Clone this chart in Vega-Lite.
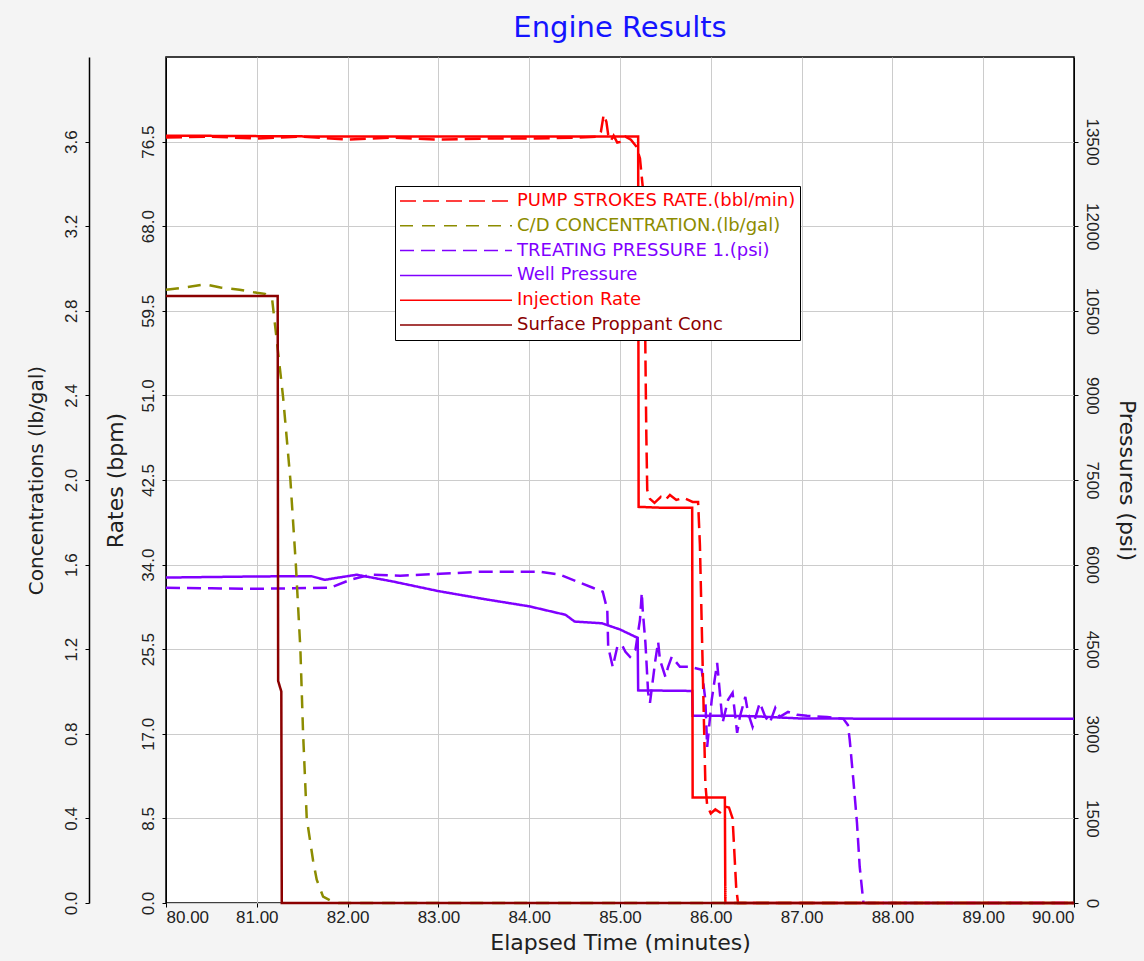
{
  "$schema": "https://vega.github.io/schema/vega-lite/v6.json",
  "width": 908,
  "height": 846,
  "autosize": {"type": "none"},
  "padding": {"left": 166, "top": 57, "right": 70, "bottom": 58},
  "background": "#f4f4f4",
  "title": {"text": "Engine Results", "font": "DejaVu Sans", "fontSize": 29, "fontWeight": "normal", "color": "#1414ff", "anchor": "middle", "offset": 14},
  "config": {
    "view": {"fill": "white", "stroke": "black", "strokeWidth": 1.5},
    "axis": {"labelFont": "Liberation Sans", "labelFontSize": 17, "labelColor": "#222222", "titleFont": "DejaVu Sans", "titleFontWeight": "normal", "titleColor": "#202020", "tickColor": "black", "domainColor": "black", "gridColor": "#cccccc", "tickSize": 4}
  },
  "datasets": {
    "rates": [
      {"s": "Injection Rate", "t": 80.0, "v": 77.1},
      {"s": "Injection Rate", "t": 82.0, "v": 77.0},
      {"s": "Injection Rate", "t": 84.0, "v": 77.0},
      {"s": "Injection Rate", "t": 85.2, "v": 77.0},
      {"s": "Injection Rate", "t": 85.205, "v": 39.8},
      {"s": "Injection Rate", "t": 85.5, "v": 39.7},
      {"s": "Injection Rate", "t": 85.795, "v": 39.7},
      {"s": "Injection Rate", "t": 85.8, "v": 10.6},
      {"s": "Injection Rate", "t": 86.155, "v": 10.6},
      {"s": "Injection Rate", "t": 86.16, "v": 0},
      {"s": "Injection Rate", "t": 90.0, "v": 0},
      {"s": "PUMP STROKES RATE.(bbl/min)", "t": 80.0, "v": 76.9},
      {"s": "PUMP STROKES RATE.(bbl/min)", "t": 80.5, "v": 77.0},
      {"s": "PUMP STROKES RATE.(bbl/min)", "t": 81.0, "v": 76.8},
      {"s": "PUMP STROKES RATE.(bbl/min)", "t": 81.5, "v": 77.0},
      {"s": "PUMP STROKES RATE.(bbl/min)", "t": 82.0, "v": 76.7},
      {"s": "PUMP STROKES RATE.(bbl/min)", "t": 82.5, "v": 76.9},
      {"s": "PUMP STROKES RATE.(bbl/min)", "t": 83.0, "v": 76.7},
      {"s": "PUMP STROKES RATE.(bbl/min)", "t": 83.5, "v": 76.8},
      {"s": "PUMP STROKES RATE.(bbl/min)", "t": 84.0, "v": 76.8},
      {"s": "PUMP STROKES RATE.(bbl/min)", "t": 84.5, "v": 76.9},
      {"s": "PUMP STROKES RATE.(bbl/min)", "t": 84.75, "v": 77.0},
      {"s": "PUMP STROKES RATE.(bbl/min)", "t": 84.79, "v": 77.5},
      {"s": "PUMP STROKES RATE.(bbl/min)", "t": 84.82, "v": 79.2},
      {"s": "PUMP STROKES RATE.(bbl/min)", "t": 84.85, "v": 78.5},
      {"s": "PUMP STROKES RATE.(bbl/min)", "t": 84.87, "v": 77.2},
      {"s": "PUMP STROKES RATE.(bbl/min)", "t": 84.9, "v": 76.6},
      {"s": "PUMP STROKES RATE.(bbl/min)", "t": 84.93, "v": 77.1},
      {"s": "PUMP STROKES RATE.(bbl/min)", "t": 84.97, "v": 76.4},
      {"s": "PUMP STROKES RATE.(bbl/min)", "t": 85.02, "v": 76.5},
      {"s": "PUMP STROKES RATE.(bbl/min)", "t": 85.06, "v": 77.0},
      {"s": "PUMP STROKES RATE.(bbl/min)", "t": 85.12, "v": 76.7},
      {"s": "PUMP STROKES RATE.(bbl/min)", "t": 85.18, "v": 76.0},
      {"s": "PUMP STROKES RATE.(bbl/min)", "t": 85.22, "v": 74.8},
      {"s": "PUMP STROKES RATE.(bbl/min)", "t": 85.25, "v": 72.0},
      {"s": "PUMP STROKES RATE.(bbl/min)", "t": 85.27, "v": 65.0},
      {"s": "PUMP STROKES RATE.(bbl/min)", "t": 85.28, "v": 55.0},
      {"s": "PUMP STROKES RATE.(bbl/min)", "t": 85.29, "v": 47.0},
      {"s": "PUMP STROKES RATE.(bbl/min)", "t": 85.3, "v": 41.5},
      {"s": "PUMP STROKES RATE.(bbl/min)", "t": 85.33, "v": 40.6},
      {"s": "PUMP STROKES RATE.(bbl/min)", "t": 85.38, "v": 40.2},
      {"s": "PUMP STROKES RATE.(bbl/min)", "t": 85.45, "v": 40.8},
      {"s": "PUMP STROKES RATE.(bbl/min)", "t": 85.5, "v": 40.5},
      {"s": "PUMP STROKES RATE.(bbl/min)", "t": 85.55, "v": 41.0},
      {"s": "PUMP STROKES RATE.(bbl/min)", "t": 85.62, "v": 40.5},
      {"s": "PUMP STROKES RATE.(bbl/min)", "t": 85.7, "v": 40.7},
      {"s": "PUMP STROKES RATE.(bbl/min)", "t": 85.8, "v": 40.3},
      {"s": "PUMP STROKES RATE.(bbl/min)", "t": 85.86, "v": 40.3},
      {"s": "PUMP STROKES RATE.(bbl/min)", "t": 85.88, "v": 36.0},
      {"s": "PUMP STROKES RATE.(bbl/min)", "t": 85.9, "v": 28.0},
      {"s": "PUMP STROKES RATE.(bbl/min)", "t": 85.92, "v": 20.0},
      {"s": "PUMP STROKES RATE.(bbl/min)", "t": 85.94, "v": 12.0},
      {"s": "PUMP STROKES RATE.(bbl/min)", "t": 85.96, "v": 9.8},
      {"s": "PUMP STROKES RATE.(bbl/min)", "t": 86.0, "v": 9.0},
      {"s": "PUMP STROKES RATE.(bbl/min)", "t": 86.05, "v": 9.4},
      {"s": "PUMP STROKES RATE.(bbl/min)", "t": 86.1, "v": 9.1},
      {"s": "PUMP STROKES RATE.(bbl/min)", "t": 86.15, "v": 9.7},
      {"s": "PUMP STROKES RATE.(bbl/min)", "t": 86.2, "v": 9.6},
      {"s": "PUMP STROKES RATE.(bbl/min)", "t": 86.24, "v": 8.5},
      {"s": "PUMP STROKES RATE.(bbl/min)", "t": 86.26, "v": 5.0},
      {"s": "PUMP STROKES RATE.(bbl/min)", "t": 86.28, "v": 1.5},
      {"s": "PUMP STROKES RATE.(bbl/min)", "t": 86.3, "v": 0},
      {"s": "PUMP STROKES RATE.(bbl/min)", "t": 90.0, "v": 0}
    ],
    "conc": [
      {"s": "C/D CONCENTRATION.(lb/gal)", "t": 80.0, "v": 2.9},
      {"s": "C/D CONCENTRATION.(lb/gal)", "t": 80.2, "v": 2.91},
      {"s": "C/D CONCENTRATION.(lb/gal)", "t": 80.43, "v": 2.925},
      {"s": "C/D CONCENTRATION.(lb/gal)", "t": 80.6, "v": 2.91},
      {"s": "C/D CONCENTRATION.(lb/gal)", "t": 80.81, "v": 2.9},
      {"s": "C/D CONCENTRATION.(lb/gal)", "t": 81.0, "v": 2.885},
      {"s": "C/D CONCENTRATION.(lb/gal)", "t": 81.09, "v": 2.88},
      {"s": "C/D CONCENTRATION.(lb/gal)", "t": 81.17, "v": 2.85},
      {"s": "C/D CONCENTRATION.(lb/gal)", "t": 81.22, "v": 2.66},
      {"s": "C/D CONCENTRATION.(lb/gal)", "t": 81.29, "v": 2.39},
      {"s": "C/D CONCENTRATION.(lb/gal)", "t": 81.37, "v": 2.0},
      {"s": "C/D CONCENTRATION.(lb/gal)", "t": 81.43, "v": 1.6},
      {"s": "C/D CONCENTRATION.(lb/gal)", "t": 81.48, "v": 1.2},
      {"s": "C/D CONCENTRATION.(lb/gal)", "t": 81.51, "v": 0.8},
      {"s": "C/D CONCENTRATION.(lb/gal)", "t": 81.55, "v": 0.4},
      {"s": "C/D CONCENTRATION.(lb/gal)", "t": 81.62, "v": 0.2},
      {"s": "C/D CONCENTRATION.(lb/gal)", "t": 81.66, "v": 0.11},
      {"s": "C/D CONCENTRATION.(lb/gal)", "t": 81.73, "v": 0.03},
      {"s": "C/D CONCENTRATION.(lb/gal)", "t": 81.84, "v": 0.005},
      {"s": "C/D CONCENTRATION.(lb/gal)", "t": 81.9, "v": 0},
      {"s": "C/D CONCENTRATION.(lb/gal)", "t": 90.0, "v": 0},
      {"s": "Surface Proppant Conc", "t": 80.0, "v": 2.87},
      {"s": "Surface Proppant Conc", "t": 81.23, "v": 2.87},
      {"s": "Surface Proppant Conc", "t": 81.235, "v": 1.05},
      {"s": "Surface Proppant Conc", "t": 81.27, "v": 1.0},
      {"s": "Surface Proppant Conc", "t": 81.275, "v": 0},
      {"s": "Surface Proppant Conc", "t": 90.0, "v": 0}
    ],
    "press": [
      {"s": "Well Pressure", "t": 80.0, "v": 5770},
      {"s": "Well Pressure", "t": 80.5, "v": 5780},
      {"s": "Well Pressure", "t": 81.0, "v": 5790},
      {"s": "Well Pressure", "t": 81.6, "v": 5795},
      {"s": "Well Pressure", "t": 81.75, "v": 5730},
      {"s": "Well Pressure", "t": 81.9, "v": 5770},
      {"s": "Well Pressure", "t": 82.1, "v": 5820},
      {"s": "Well Pressure", "t": 82.5, "v": 5700},
      {"s": "Well Pressure", "t": 83.0, "v": 5530},
      {"s": "Well Pressure", "t": 83.5, "v": 5390},
      {"s": "Well Pressure", "t": 84.0, "v": 5260},
      {"s": "Well Pressure", "t": 84.4, "v": 5110},
      {"s": "Well Pressure", "t": 84.5, "v": 4990},
      {"s": "Well Pressure", "t": 84.8, "v": 4960},
      {"s": "Well Pressure", "t": 85.0, "v": 4850},
      {"s": "Well Pressure", "t": 85.195, "v": 4700},
      {"s": "Well Pressure", "t": 85.2, "v": 3770},
      {"s": "Well Pressure", "t": 85.795, "v": 3760},
      {"s": "Well Pressure", "t": 85.8, "v": 3320},
      {"s": "Well Pressure", "t": 86.2, "v": 3320},
      {"s": "Well Pressure", "t": 86.5, "v": 3310},
      {"s": "Well Pressure", "t": 87.0, "v": 3270},
      {"s": "Well Pressure", "t": 90.0, "v": 3265},
      {"s": "TREATING PRESSURE 1.(psi)", "t": 80.0, "v": 5589},
      {"s": "TREATING PRESSURE 1.(psi)", "t": 80.5, "v": 5580},
      {"s": "TREATING PRESSURE 1.(psi)", "t": 80.93, "v": 5571},
      {"s": "TREATING PRESSURE 1.(psi)", "t": 81.4, "v": 5580},
      {"s": "TREATING PRESSURE 1.(psi)", "t": 81.81, "v": 5589},
      {"s": "TREATING PRESSURE 1.(psi)", "t": 82.03, "v": 5731},
      {"s": "TREATING PRESSURE 1.(psi)", "t": 82.25, "v": 5820},
      {"s": "TREATING PRESSURE 1.(psi)", "t": 82.58, "v": 5802},
      {"s": "TREATING PRESSURE 1.(psi)", "t": 83.02, "v": 5837},
      {"s": "TREATING PRESSURE 1.(psi)", "t": 83.46, "v": 5873},
      {"s": "TREATING PRESSURE 1.(psi)", "t": 84.12, "v": 5873},
      {"s": "TREATING PRESSURE 1.(psi)", "t": 84.34, "v": 5820},
      {"s": "TREATING PRESSURE 1.(psi)", "t": 84.56, "v": 5678},
      {"s": "TREATING PRESSURE 1.(psi)", "t": 84.7, "v": 5589},
      {"s": "TREATING PRESSURE 1.(psi)", "t": 84.81, "v": 5518},
      {"s": "TREATING PRESSURE 1.(psi)", "t": 84.86, "v": 5199},
      {"s": "TREATING PRESSURE 1.(psi)", "t": 84.87, "v": 4542},
      {"s": "TREATING PRESSURE 1.(psi)", "t": 84.92, "v": 4187},
      {"s": "TREATING PRESSURE 1.(psi)", "t": 84.97, "v": 4542},
      {"s": "TREATING PRESSURE 1.(psi)", "t": 85.02, "v": 4578},
      {"s": "TREATING PRESSURE 1.(psi)", "t": 85.06, "v": 4453},
      {"s": "TREATING PRESSURE 1.(psi)", "t": 85.11, "v": 4365},
      {"s": "TREATING PRESSURE 1.(psi)", "t": 85.17, "v": 4489},
      {"s": "TREATING PRESSURE 1.(psi)", "t": 85.22, "v": 5021},
      {"s": "TREATING PRESSURE 1.(psi)", "t": 85.24, "v": 5500},
      {"s": "TREATING PRESSURE 1.(psi)", "t": 85.25, "v": 5199},
      {"s": "TREATING PRESSURE 1.(psi)", "t": 85.28, "v": 4613},
      {"s": "TREATING PRESSURE 1.(psi)", "t": 85.31, "v": 3726},
      {"s": "TREATING PRESSURE 1.(psi)", "t": 85.33, "v": 3549},
      {"s": "TREATING PRESSURE 1.(psi)", "t": 85.39, "v": 4312},
      {"s": "TREATING PRESSURE 1.(psi)", "t": 85.42, "v": 4631},
      {"s": "TREATING PRESSURE 1.(psi)", "t": 85.44, "v": 4312},
      {"s": "TREATING PRESSURE 1.(psi)", "t": 85.5, "v": 4010},
      {"s": "TREATING PRESSURE 1.(psi)", "t": 85.53, "v": 4187},
      {"s": "TREATING PRESSURE 1.(psi)", "t": 85.57, "v": 4365},
      {"s": "TREATING PRESSURE 1.(psi)", "t": 85.66, "v": 4187},
      {"s": "TREATING PRESSURE 1.(psi)", "t": 85.77, "v": 4187},
      {"s": "TREATING PRESSURE 1.(psi)", "t": 85.9, "v": 4134},
      {"s": "TREATING PRESSURE 1.(psi)", "t": 85.94, "v": 3602},
      {"s": "TREATING PRESSURE 1.(psi)", "t": 85.96, "v": 2768},
      {"s": "TREATING PRESSURE 1.(psi)", "t": 86.01, "v": 3602},
      {"s": "TREATING PRESSURE 1.(psi)", "t": 86.07, "v": 4258},
      {"s": "TREATING PRESSURE 1.(psi)", "t": 86.1, "v": 3726},
      {"s": "TREATING PRESSURE 1.(psi)", "t": 86.13, "v": 3194},
      {"s": "TREATING PRESSURE 1.(psi)", "t": 86.19, "v": 3602},
      {"s": "TREATING PRESSURE 1.(psi)", "t": 86.24, "v": 3726},
      {"s": "TREATING PRESSURE 1.(psi)", "t": 86.29, "v": 3016},
      {"s": "TREATING PRESSURE 1.(psi)", "t": 86.32, "v": 3300},
      {"s": "TREATING PRESSURE 1.(psi)", "t": 86.38, "v": 3655},
      {"s": "TREATING PRESSURE 1.(psi)", "t": 86.41, "v": 3371},
      {"s": "TREATING PRESSURE 1.(psi)", "t": 86.46, "v": 3123},
      {"s": "TREATING PRESSURE 1.(psi)", "t": 86.54, "v": 3549},
      {"s": "TREATING PRESSURE 1.(psi)", "t": 86.6, "v": 3300},
      {"s": "TREATING PRESSURE 1.(psi)", "t": 86.65, "v": 3194},
      {"s": "TREATING PRESSURE 1.(psi)", "t": 86.71, "v": 3460},
      {"s": "TREATING PRESSURE 1.(psi)", "t": 86.76, "v": 3300},
      {"s": "TREATING PRESSURE 1.(psi)", "t": 86.85, "v": 3389},
      {"s": "TREATING PRESSURE 1.(psi)", "t": 86.95, "v": 3336},
      {"s": "TREATING PRESSURE 1.(psi)", "t": 87.06, "v": 3318},
      {"s": "TREATING PRESSURE 1.(psi)", "t": 87.28, "v": 3300},
      {"s": "TREATING PRESSURE 1.(psi)", "t": 87.46, "v": 3265},
      {"s": "TREATING PRESSURE 1.(psi)", "t": 87.51, "v": 3158},
      {"s": "TREATING PRESSURE 1.(psi)", "t": 87.53, "v": 2892},
      {"s": "TREATING PRESSURE 1.(psi)", "t": 87.57, "v": 2182},
      {"s": "TREATING PRESSURE 1.(psi)", "t": 87.61, "v": 1419},
      {"s": "TREATING PRESSURE 1.(psi)", "t": 87.64, "v": 639},
      {"s": "TREATING PRESSURE 1.(psi)", "t": 87.68, "v": 18},
      {"s": "TREATING PRESSURE 1.(psi)", "t": 87.7, "v": 0},
      {"s": "TREATING PRESSURE 1.(psi)", "t": 90.0, "v": 0}
    ]
  },
  "encoding": {
    "x": {"field": "t", "type": "quantitative", "scale": {"domain": [80, 90], "nice": false, "zero": false},
      "axis": {"title": "Elapsed Time (minutes)", "values": [80, 81, 82, 83, 84, 85, 86, 87, 88, 89, 90], "format": ".2f", "labelFlush": true, "labelPadding": 2, "titleFontSize": 22, "titlePadding": 7, "grid": true, "domain": false}},
    "color": {"field": "s", "type": "nominal",
      "scale": {"domain": ["PUMP STROKES RATE.(bbl/min)", "C/D CONCENTRATION.(lb/gal)", "TREATING PRESSURE 1.(psi)", "Well Pressure", "Injection Rate", "Surface Proppant Conc"],
        "range": ["#ff0000", "#8c8c00", "#8000ff", "#8000ff", "#ff0000", "#8b0000"]},
      "legend": {"title": null, "orient": "none", "legendX": 229, "legendY": 129, "fillColor": "white", "strokeColor": "black", "padding": 4, "symbolType": "stroke", "symbolSize": 12544, "symbolStrokeWidth": 1.5, "labelFont": "DejaVu Sans", "labelFontSize": 18, "labelOffset": 4, "clipHeight": 22, "rowPadding": 2.8, "labelLimit": 500,
        "encode": {"labels": {"update": {"fill": {"scale": "color", "field": "value"}}}}}},
    "strokeDash": {"field": "s", "type": "nominal",
      "scale": {"domain": ["PUMP STROKES RATE.(bbl/min)", "C/D CONCENTRATION.(lb/gal)", "TREATING PRESSURE 1.(psi)", "Well Pressure", "Injection Rate", "Surface Proppant Conc"],
        "range": [[16, 7], [13, 9], [14, 7], [1, 0], [1, 0], [1, 0]]},
      "legend": {"title": null}}
  },
  "layer": [
    {
      "data": {"name": "press"},
      "mark": {"type": "line", "strokeWidth": 2.5},
      "encoding": {
        "y": {"field": "v", "type": "quantitative", "scale": {"domain": [0, 15000], "nice": false, "zero": false},
          "axis": {"orient": "right", "title": "Pressures (psi)", "values": [0, 1500, 3000, 4500, 6000, 7500, 9000, 10500, 12000, 13500], "format": "d", "labelAngle": 90, "labelAlign": "center", "labelBaseline": "bottom", "labelPadding": 4, "grid": false, "titleFontSize": 22, "titlePadding": 14}}
      }
    },
    {
      "data": {"name": "rates"},
      "mark": {"type": "line", "strokeWidth": 2.5},
      "encoding": {
        "y": {"field": "v", "type": "quantitative", "scale": {"domain": [0, 85], "nice": false, "zero": false},
          "axis": {"orient": "left", "title": "Rates (bpm)", "values": [0, 8.5, 17, 25.5, 34, 42.5, 51, 59.5, 68, 76.5], "format": ".1f", "labelAngle": 270, "labelAlign": "center", "labelBaseline": "bottom", "labelPadding": 5, "grid": true, "titleFontSize": 22, "titlePadding": 12}}
      }
    },
    {
      "data": {"name": "conc"},
      "mark": {"type": "line", "strokeWidth": 2.5},
      "encoding": {
        "y": {"field": "v", "type": "quantitative", "scale": {"domain": [0, 4], "nice": false, "zero": false},
          "axis": {"orient": "left", "offset": 77, "title": "Concentrations (lb/gal)", "values": [0, 0.4, 0.8, 1.2, 1.6, 2.0, 2.4, 2.8, 3.2, 3.6], "format": ".1f", "labelAngle": 270, "labelAlign": "center", "labelBaseline": "bottom", "labelPadding": 5, "grid": false, "titleFontSize": 20, "titlePadding": 16, "domainWidth": 1.5}}
      }
    }
  ],
  "resolve": {"scale": {"y": "independent"}}
}
